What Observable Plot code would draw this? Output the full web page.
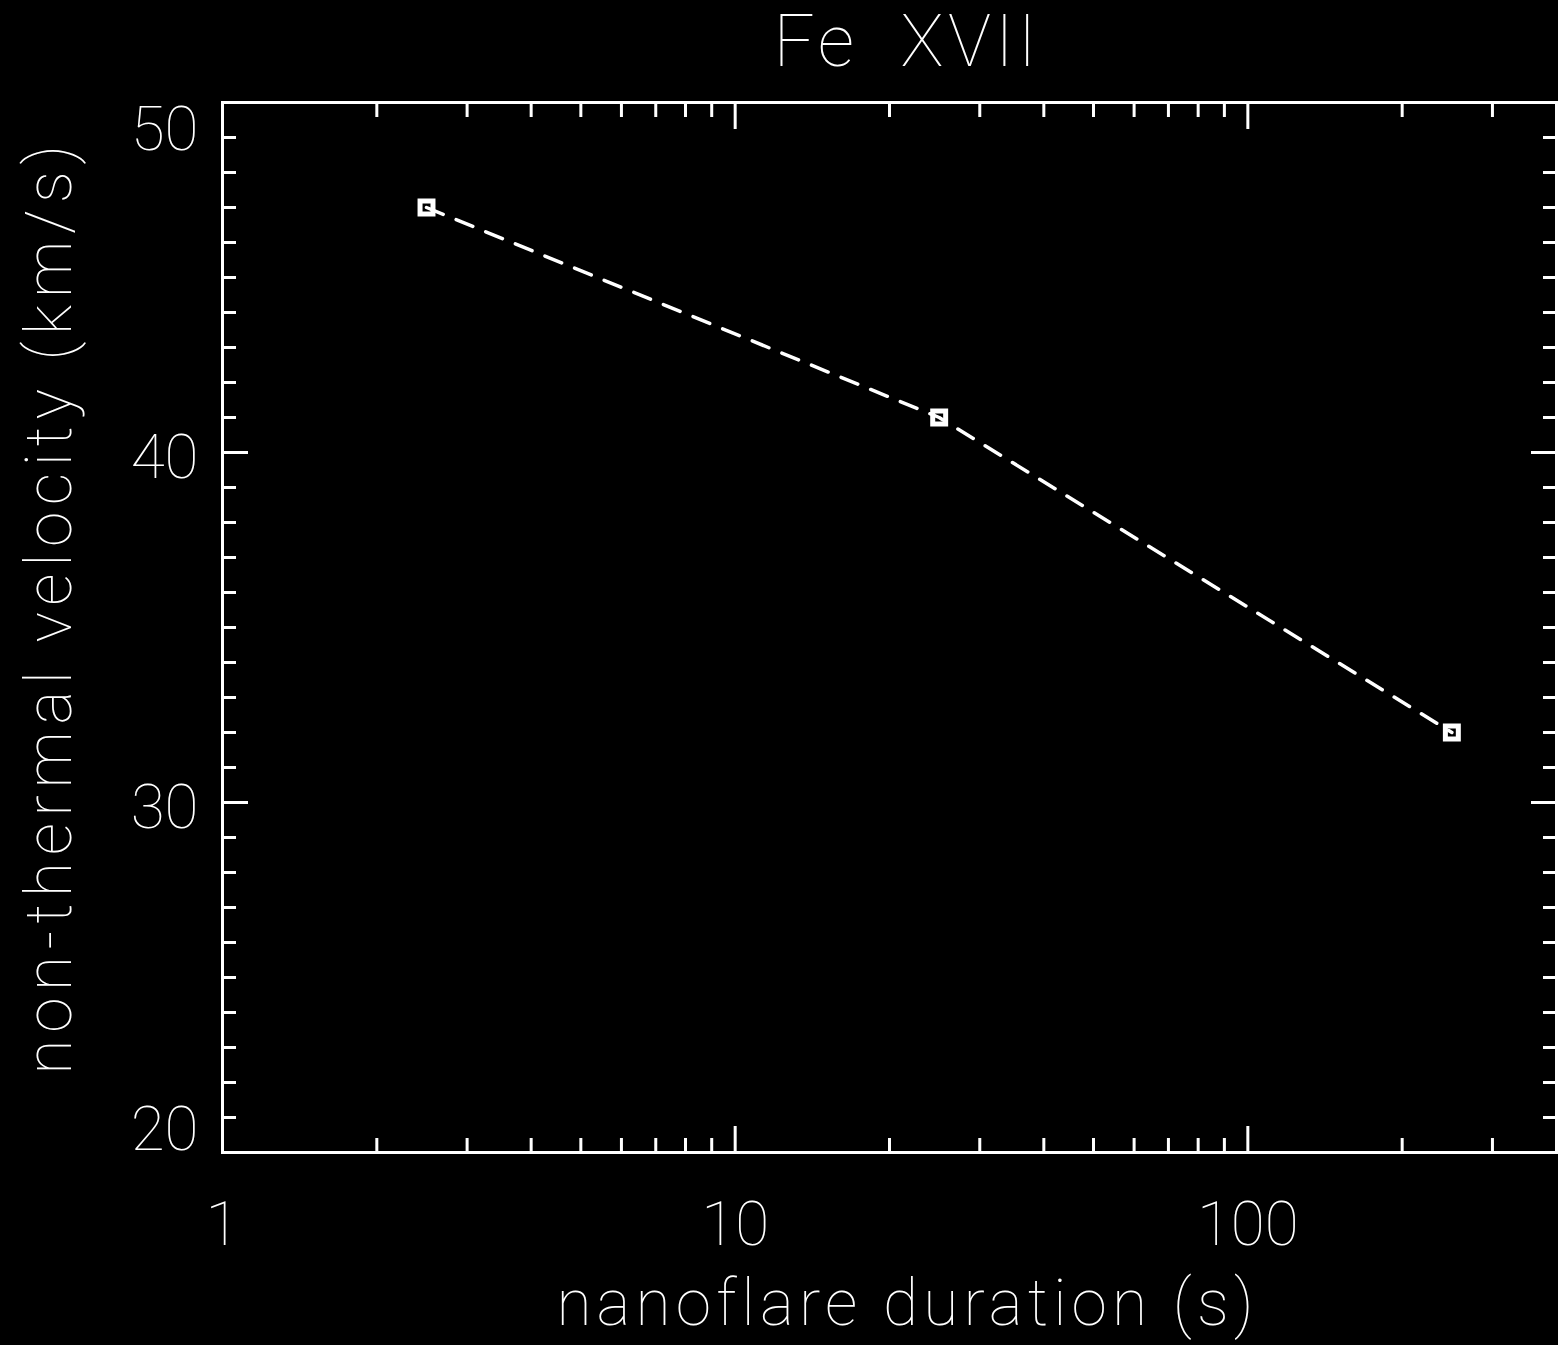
<!DOCTYPE html>
<html><head><meta charset="utf-8">
<script src="https://cdn.jsdelivr.net/npm/d3@7"></script>
<script src="https://cdn.jsdelivr.net/npm/@observablehq/plot@0.6"></script>
<style>
html,body{margin:0;padding:0;background:#000;}
#wrap{position:relative;width:1558px;height:1345px;overflow:hidden;background:#000;}
#title{position:absolute;top:-3px;left:907px;transform:translateX(-50%);font-family:Roboto,Lato,"DejaVu Sans",sans-serif;font-weight:100;font-size:72px;line-height:90px;color:#fff;white-space:pre;letter-spacing:4px;}
#chart{position:absolute;top:90px;left:0;}
</style></head><body>
<div id="wrap"><div id="title"></div><div id="chart"></div></div>
<script>
const title = "Fe  XVII";
const xLabel = "nanoflare duration (s)";
const yLabel = "non-thermal velocity (km/s)";
const duration = [2.5, 25, 250];
const velocity = [47.0, 41.0, 32.0];
const xDomain = [1, 400];
const yDomain = [20, 50];
const xMajorTicks = [1, 10, 100];
const xMinorTicks = [2, 3, 4, 5, 6, 7, 8, 9, 20, 30, 40, 50, 60, 70, 80, 90, 200, 300];
const yMajorTicks = [20, 30, 40, 50];
const yMinorTicks = [21, 22, 23, 24, 25, 26, 27, 28, 29, 31, 32, 33, 34, 35, 36, 37, 38, 39, 41, 42, 43, 44, 45, 46, 47, 48, 49];

document.getElementById("title").textContent = title;

const data = duration.map((d, i) => ({duration: d, velocity: velocity[i]}));
const font = "Roboto, Lato, 'DejaVu Sans', sans-serif";
const white = "#fff";
const noText = () => "";

const tickMarks = [];
for (const anchor of ["bottom", "top"]) {
  tickMarks.push(Plot.axisX(xMajorTicks, {anchor, tickSize: -26, strokeWidth: 3, stroke: white, tickFormat: noText, label: null}));
  tickMarks.push(Plot.axisX(xMinorTicks, {anchor, tickSize: -14, strokeWidth: 3, stroke: white, tickFormat: noText, label: null}));
}
for (const anchor of ["left", "right"]) {
  tickMarks.push(Plot.axisY(yMajorTicks, {anchor, tickSize: -26, strokeWidth: 3, stroke: white, tickFormat: noText, label: null}));
  tickMarks.push(Plot.axisY(yMinorTicks, {anchor, tickSize: -14, strokeWidth: 3, stroke: white, tickFormat: noText, label: null}));
}

const labelStyle = {fill: white, fontSize: 62, fontWeight: 100, fontFamily: font, lineAnchor: "middle"};
const titleStyle = {fill: white, fontSize: 64, fontWeight: 100, fontFamily: font, lineAnchor: "middle", textAnchor: "middle"};

const plot = Plot.plot({
  width: 1558,
  height: 1255,
  marginLeft: 222,
  marginRight: 2,
  marginTop: 12,
  marginBottom: 193,
  style: {background: "#000", color: white, fontFamily: font},
  x: {type: "log", domain: xDomain, axis: null},
  y: {type: "linear", domain: yDomain, axis: null},
  marks: [
    ...tickMarks,
    Plot.frame({stroke: white, strokeWidth: 3}),
    Plot.text(xMajorTicks, {x: d => d, frameAnchor: "bottom", dy: 73, textAnchor: "middle", text: d => String(d), ...labelStyle}),
    Plot.text(yMajorTicks.filter(d => d > yDomain[0] && d < yDomain[1]), {y: d => d, frameAnchor: "left", textAnchor: "end", dx: -24, dy: 6, text: d => String(d), ...labelStyle}),
    Plot.text(yMajorTicks.filter(d => d === yDomain[1]), {y: d => d, frameAnchor: "left", textAnchor: "end", dx: -24, dy: 28, text: d => String(d), ...labelStyle}),
    Plot.text(yMajorTicks.filter(d => d === yDomain[0]), {y: d => d, frameAnchor: "left", textAnchor: "end", dx: -24, dy: -22, text: d => String(d), ...labelStyle}),
    Plot.text([xLabel], {frameAnchor: "bottom", dx: 18, dy: 152, text: d => d, ...titleStyle}),
    Plot.text([yLabel], {frameAnchor: "left", rotate: -90, dx: -172, dy: -21, text: d => d, ...titleStyle}),
    Plot.line(data, {x: "duration", y: "velocity", stroke: white, strokeWidth: 3.5, strokeDasharray: "18,14"}),
    Plot.dot(data, {x: "duration", y: "velocity", symbol: "square", r: 7.3, stroke: white, strokeWidth: 5, fill: "none"})
  ]
});
document.getElementById("chart").appendChild(plot);
const svgText = d3.select(plot).selectAll("text");
svgText.filter(function() { return this.textContent === xLabel; }).style("letter-spacing", "5.2px");
svgText.filter(function() { return this.textContent === yLabel; }).style("letter-spacing", "6.6px");
</script>
</body></html>
